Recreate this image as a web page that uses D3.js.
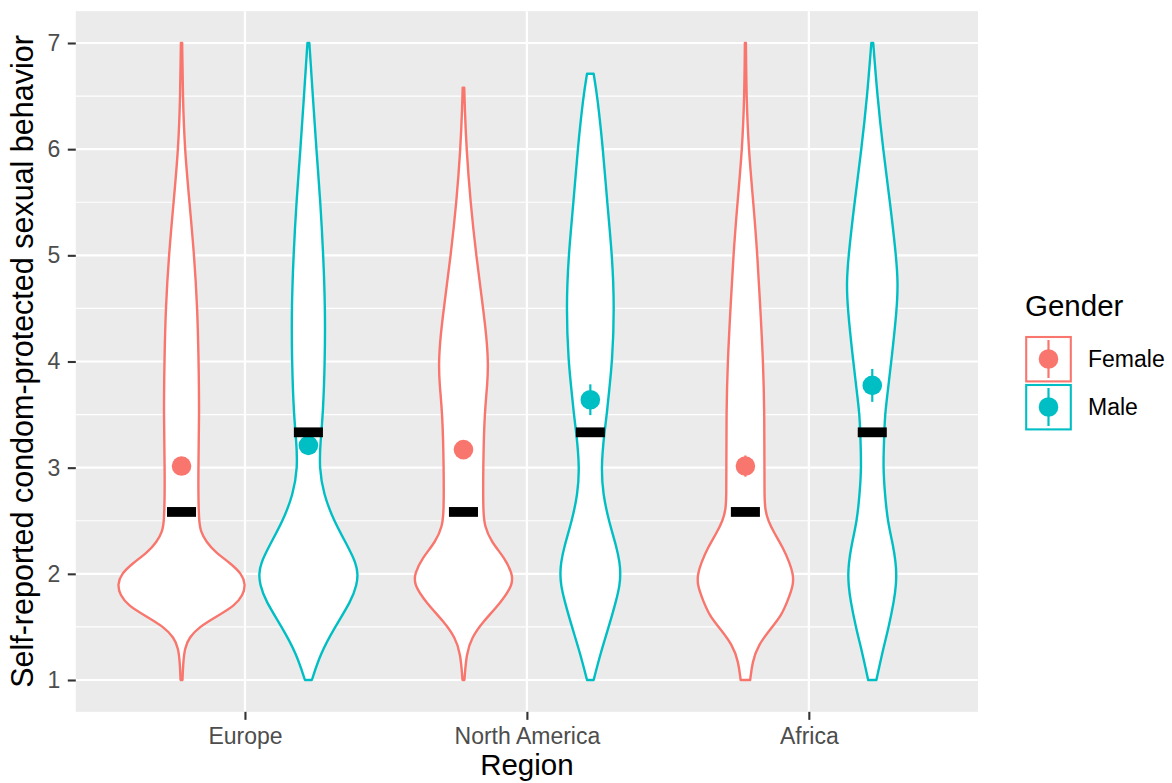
<!DOCTYPE html>
<html>
<head>
<meta charset="utf-8">
<script src="https://cdn.jsdelivr.net/npm/d3@7"></script>
<style>
  html, body { margin: 0; padding: 0; background: #ffffff; }
  svg { display: block; font-family: "Liberation Sans", Arial, Helvetica, sans-serif; }
</style>
</head>
<body>
<svg id="chart" width="1172" height="783"></svg>
<script>
// ---------- DATA ----------
const regions = ["Europe", "North America", "Africa"];
const genders = ["Female", "Male"];
const genderColors = ["#F8766D", "#00BFC4"];
const yTicks = [1, 2, 3, 4, 5, 6, 7];
const yMinorTicks = [1.5, 2.5, 3.5, 4.5, 5.5, 6.5];

// violin density profiles: [score, relative density]
const violinEuropeFemale = [[1.0,0.015],[1.15,0.025],[1.3,0.05],[1.4,0.12],[1.5,0.28],[1.6,0.56],[1.7,0.84],[1.8,0.97],[1.9,1.01],[2.0,0.95],[2.1,0.77],[2.2,0.54],[2.3,0.39],[2.4,0.30],[2.5,0.275],[2.75,0.265],[3.0,0.265],[3.5,0.28],[4.0,0.27],[4.5,0.25],[5.0,0.2],[5.5,0.125],[6.0,0.05],[6.5,0.02],[7.0,0.01]];
const violinEuropeMale = [[1.0,0.055],[1.25,0.19],[1.5,0.42],[1.75,0.68],[1.9,0.765],[2.0,0.78],[2.1,0.75],[2.25,0.63],[2.5,0.40],[2.75,0.24],[3.0,0.17],[3.25,0.19],[3.5,0.23],[4.0,0.26],[4.5,0.265],[5.0,0.235],[5.5,0.19],[6.0,0.125],[6.5,0.07],[7.0,0.015]];
const violinNorthAmericaFemale = [[1.0,0.015],[1.25,0.047],[1.4,0.13],[1.55,0.31],[1.73,0.59],[1.9,0.78],[2.0,0.77],[2.15,0.65],[2.3,0.44],[2.45,0.33],[2.6,0.31],[3.0,0.31],[3.5,0.33],[3.8,0.38],[4.0,0.39],[4.25,0.36],[4.5,0.31],[5.0,0.2],[5.5,0.11],[6.0,0.047],[6.4,0.02],[6.58,0.012]];
const violinNorthAmericaMale = [[1.0,0.052],[1.25,0.16],[1.5,0.29],[1.75,0.41],[1.9,0.465],[2.0,0.475],[2.1,0.465],[2.25,0.415],[2.5,0.29],[2.75,0.2],[3.0,0.17],[3.33,0.22],[3.5,0.26],[3.75,0.3],[4.0,0.345],[4.5,0.38],[5.0,0.345],[5.5,0.265],[6.0,0.2],[6.5,0.11],[6.71,0.052]];
const violinAfricaFemale = [[1.0,0.075],[1.17,0.11],[1.33,0.2],[1.5,0.42],[1.6,0.56],[1.75,0.67],[1.9,0.76],[2.0,0.75],[2.1,0.7],[2.25,0.59],[2.4,0.44],[2.5,0.36],[2.6,0.31],[2.75,0.3],[3.0,0.3],[3.5,0.3],[4.0,0.28],[4.5,0.235],[5.0,0.19],[5.5,0.125],[6.0,0.05],[6.5,0.016],[7.0,0.008]];
const violinAfricaMale = [[1.0,0.065],[1.25,0.155],[1.5,0.26],[1.75,0.345],[1.9,0.375],[2.0,0.38],[2.1,0.37],[2.25,0.335],[2.5,0.24],[2.75,0.2],[3.0,0.17],[3.33,0.19],[3.5,0.2],[3.75,0.25],[4.0,0.3],[4.5,0.39],[4.75,0.405],[5.0,0.375],[5.5,0.28],[6.0,0.17],[6.5,0.08],[7.0,0.015]];

// summary statistics per region × gender
const summaryRegion = ["Europe", "Europe", "North America", "North America", "Africa", "Africa"];
const summaryGender = ["Female", "Male", "Female", "Male", "Female", "Male"];
const meanValues = [3.015, 3.21, 3.17, 3.64, 3.015, 3.775];
const seValues = [0.03, 0.08, 0.03, 0.145, 0.1, 0.155];
const medianValues = [2.583, 3.333, 2.583, 3.333, 2.583, 3.333];
const violinProfiles = [violinEuropeFemale, violinEuropeMale, violinNorthAmericaFemale, violinNorthAmericaMale, violinAfricaFemale, violinAfricaMale];

// ---------- LAYOUT ----------
const svg = d3.select("#chart");
const panel = { left: 75.8, right: 978, top: 11.15, bottom: 711.85 };

const x = d3.scalePoint().domain(regions).range([panel.left, panel.right]).padding(0.6);
const step = x.step();
const dodge = d3.scaleBand().domain(genders).range([-0.45 * step, 0.45 * step]);
const y = d3.scaleLinear().domain([0.7, 7.3]).range([panel.bottom, panel.top]);
const w = d3.scaleLinear().domain([0, 1]).range([0, dodge.bandwidth() / 2]);
const color = d3.scaleOrdinal().domain(genders).range(genderColors);

// panel background
svg.append("rect")
  .attr("x", panel.left).attr("y", panel.top)
  .attr("width", panel.right - panel.left).attr("height", panel.bottom - panel.top)
  .attr("fill", "#EBEBEB");

const grid = svg.append("g");
grid.selectAll("line.minor").data(yMinorTicks).join("line")
  .attr("x1", panel.left).attr("x2", panel.right)
  .attr("y1", d => y(d)).attr("y2", d => y(d))
  .attr("stroke", "#ffffff").attr("stroke-width", 1.1);
grid.selectAll("line.majorY").data(yTicks).join("line")
  .attr("x1", panel.left).attr("x2", panel.right)
  .attr("y1", d => y(d)).attr("y2", d => y(d))
  .attr("stroke", "#ffffff").attr("stroke-width", 2.2);
grid.selectAll("line.majorX").data(regions).join("line")
  .attr("x1", d => x(d)).attr("x2", d => x(d))
  .attr("y1", panel.top).attr("y2", panel.bottom)
  .attr("stroke", "#ffffff").attr("stroke-width", 2.2);

// ---------- VIOLINS ----------
const cx = i => x(summaryRegion[i]) + dodge(summaryGender[i]) + dodge.bandwidth() / 2;

violinProfiles.forEach((prof, i) => {
  const c = cx(i);
  const area = d3.area()
    .y(p => y(p[0]))
    .x0(p => c - w(p[1]))
    .x1(p => c + w(p[1]))
    .curve(d3.curveBasis);
  svg.append("path")
    .attr("d", area(prof))
    .attr("fill", "#ffffff")
    .attr("stroke", color(summaryGender[i]))
    .attr("stroke-width", 2.4)
    .attr("stroke-linejoin", "round");
});

// ---------- POINT RANGES (mean ± SE) ----------
const idx = d3.range(meanValues.length);
svg.append("g").selectAll("line").data(idx).join("line")
  .attr("x1", i => cx(i)).attr("x2", i => cx(i))
  .attr("y1", i => y(meanValues[i] - seValues[i]))
  .attr("y2", i => y(meanValues[i] + seValues[i]))
  .attr("stroke", i => color(summaryGender[i]))
  .attr("stroke-width", 2.2);
svg.append("g").selectAll("circle").data(idx).join("circle")
  .attr("cx", i => cx(i)).attr("cy", i => y(meanValues[i]))
  .attr("r", 9.8)
  .attr("fill", i => color(summaryGender[i]));

// ---------- MEDIAN BARS ----------
const barW = 0.103 * step;
svg.append("g").selectAll("rect").data(idx).join("rect")
  .attr("x", i => cx(i) - barW / 2)
  .attr("y", i => y(medianValues[i]) - 4.9)
  .attr("width", barW).attr("height", 9.8)
  .attr("fill", "#000000");

// ---------- AXES ----------
const yAxis = svg.append("g")
  .attr("transform", `translate(${panel.left},0)`)
  .call(d3.axisLeft(y).tickValues(yTicks).tickSize(8).tickPadding(7.5).tickFormat(d3.format("d")));
const xAxis = svg.append("g")
  .attr("transform", `translate(0,${panel.bottom})`)
  .call(d3.axisBottom(x).tickSize(8).tickPadding(7.5));
[yAxis, xAxis].forEach(a => {
  a.select(".domain").remove();
  a.selectAll(".tick line").attr("stroke", "#333333").attr("stroke-width", 2.1);
  a.selectAll(".tick text")
    .attr("fill", "#4D4D4D")
    .style("font-size", "23px")
    .style("font-family", "'Liberation Sans', Arial, sans-serif");
});

// axis titles
svg.append("text")
  .attr("x", (panel.left + panel.right) / 2).attr("y", 775)
  .attr("text-anchor", "middle")
  .style("font-size", "29.5px").attr("fill", "#000000")
  .text("Region");
svg.append("text")
  .attr("transform", `translate(33,${(panel.top + panel.bottom) / 2}) rotate(-90)`)
  .attr("text-anchor", "middle")
  .style("font-size", "30.5px").attr("fill", "#000000")
  .text("Self-reported condom-protected sexual behavior");

// ---------- LEGEND ----------
const legend = svg.append("g").attr("transform", "translate(1025,0)");
legend.append("text")
  .attr("x", 0).attr("y", 316)
  .style("font-size", "29.5px").attr("fill", "#000000")
  .text("Gender");
const keyTop = 335;
const keySize = 48;
const keys = legend.selectAll("g.key").data(genders).join("g")
  .attr("transform", (d, i) => `translate(0,${keyTop + i * keySize})`);
keys.append("rect")
  .attr("x", 1.2).attr("y", 2).attr("width", 44.6).attr("height", 44.4)
  .attr("fill", "#ffffff")
  .attr("stroke", d => color(d)).attr("stroke-width", 2.1);
keys.append("line")
  .attr("x1", 23.5).attr("x2", 23.5).attr("y1", 5).attr("y2", 43)
  .attr("stroke", d => color(d)).attr("stroke-width", 2.2);
keys.append("circle")
  .attr("cx", 23.5).attr("cy", 24).attr("r", 9.8)
  .attr("fill", d => color(d));
keys.append("text")
  .attr("x", 63).attr("y", 24).attr("dy", "0.35em")
  .style("font-size", "23px").attr("fill", "#000000")
  .text(d => d);
</script>
</body>
</html>
